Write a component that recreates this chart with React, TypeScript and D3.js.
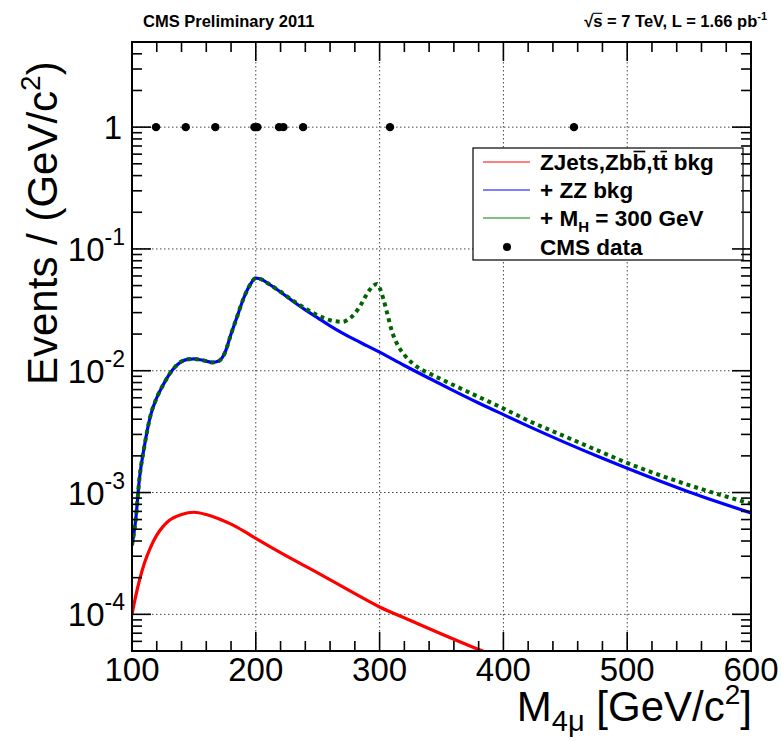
import React from "react";
import * as d3 from "d3";

const FONT = "'Liberation Sans', Arial, Helvetica, sans-serif";

// ZJets, Zbb, tt background (red)
const redMass = [100, 103, 106, 110, 115, 120, 125, 130, 140, 150, 160, 170, 180, 190, 200, 225, 250, 275, 300, 325, 350, 375, 400];
const redVals = [1.0e-4, 1.41e-4, 1.9e-4, 2.63e-4, 3.55e-4, 4.47e-4, 5.25e-4, 5.89e-4, 6.6e-4, 6.89e-4, 6.6e-4, 6.1e-4, 5.5e-4, 4.84e-4, 4.2e-4, 3.0e-4, 2.19e-4, 1.58e-4, 1.15e-4, 8.9e-5, 6.9e-5, 5.4e-5, 4.3e-5];

// + ZZ background (blue)
const blueMass = [100, 103, 106, 110, 115, 120, 125, 130, 135, 140, 145, 150, 155, 160, 165, 170, 175, 180, 185, 190, 195, 200, 205, 210, 220, 230, 240, 250, 260, 270, 280, 290, 300, 320, 340, 360, 380, 400, 420, 450, 480, 500, 550, 600];
const blueVals = [3.7e-4, 6.0e-4, 1.3e-3, 2.4e-3, 4.3e-3, 6.0e-3, 7.6e-3, 9.3e-3, 1.08e-2, 1.19e-2, 1.24e-2, 1.25e-2, 1.23e-2, 1.2e-2, 1.17e-2, 1.2e-2, 1.4e-2, 2.0e-2, 2.8e-2, 3.9e-2, 5.0e-2, 5.75e-2, 5.6e-2, 5.2e-2, 4.43e-2, 3.72e-2, 3.16e-2, 2.72e-2, 2.34e-2, 2.04e-2, 1.80e-2, 1.60e-2, 1.42e-2, 1.104e-2, 8.67e-3, 6.84e-3, 5.43e-3, 4.36e-3, 3.51e-3, 2.57e-3, 1.91e-3, 1.58e-3, 1.01e-3, 6.8e-4];

// + M_H = 300 GeV signal (green dotted)
const greenMass = [100, 103, 106, 110, 115, 120, 125, 130, 135, 140, 145, 150, 155, 160, 165, 170, 175, 180, 185, 190, 195, 200, 205, 210, 220, 230, 240, 250, 260, 270, 275, 280, 285, 290, 295, 298, 300, 303, 306, 310, 315, 320, 330, 340, 350, 360, 380, 400, 420, 450, 480, 500, 550, 600];
const greenVals = [3.7e-4, 6.0e-4, 1.3e-3, 2.4e-3, 4.3e-3, 6.0e-3, 7.6e-3, 9.3e-3, 1.08e-2, 1.19e-2, 1.24e-2, 1.25e-2, 1.23e-2, 1.2e-2, 1.17e-2, 1.2e-2, 1.4e-2, 2.0e-2, 2.8e-2, 3.9e-2, 5.0e-2, 5.75e-2, 5.6e-2, 5.2e-2, 4.45e-2, 3.76e-2, 3.25e-2, 2.85e-2, 2.6e-2, 2.52e-2, 2.65e-2, 2.95e-2, 3.5e-2, 4.3e-2, 5.0e-2, 5.15e-2, 4.8e-2, 3.9e-2, 3.0e-2, 2.1e-2, 1.6e-2, 1.35e-2, 1.08e-2, 9.5e-3, 8.5e-3, 7.6e-3, 6.1e-3, 4.9e-3, 3.9e-3, 2.88e-3, 2.13e-3, 1.75e-3, 1.15e-3, 8.1e-4];

// CMS data
const dataMass = [119.4, 143.4, 167.3, 198.9, 201.3, 218.8, 222.3, 238.2, 308.4, 457.0];
const dataVals = [1, 1, 1, 1, 1, 1, 1, 1, 1, 1];

const xTicks = [100, 200, 300, 400, 500, 600];
const xTickLabels = ["100", "200", "300", "400", "500", "600"];
const yTicks = [1, 0.1, 0.01, 0.001, 0.0001];
const yTickLabels = ["1", "10^-1", "10^-2", "10^-3", "10^-4"];

const legendLabels = ["ZJets,Zbb,tt bkg", "+ ZZ bkg", "+ M_H = 300 GeV", "CMS data"];

function measure(text: string, font: string): number {
  if (typeof document === "undefined") return text.length * 10;
  const c = document.createElement("canvas").getContext("2d");
  if (!c) return text.length * 10;
  c.font = font;
  return c.measureText(text).width;
}

export default function App() {
  const W = 781, H = 741;
  const L = 132, R = 751, T = 42, B = 651;
  const x = d3.scaleLinear().domain([100, 600]).range([L, R]);
  const y = d3.scaleLog().domain([5e-5, 5]).range([B, T]);

  const line = d3
    .line<[number, number]>()
    .x((d) => x(d[0]))
    .y((d) => y(d[1]))
    .curve(d3.curveMonotoneX);

  const zip = (a: number[], b: number[]) => a.map((m, i) => [m, b[i]] as [number, number]);

  const xMinor = d3.range(100, 601, 20).filter((v) => v % 100 !== 0);
  const yMinor: number[] = [];
  for (let e = -5; e <= 0; e++) {
    for (let k = 2; k <= 9; k++) {
      const v = k * Math.pow(10, e);
      if (v >= 5e-5 && v <= 5) yMinor.push(v);
    }
  }

  const gridStyle = { stroke: "#444", strokeWidth: 1, strokeDasharray: "1.5,2.5" };
  const majorLen = 19, minorLen = 10;

  // legend
  const lgX = 473, lgY = 148, lgW = 270, lgH = 112;
  const rowY = [162, 190, 218, 247];
  const lgFontSize = 22.5;
  const lgFont = `bold ${lgFontSize}px 'Liberation Sans', Arial, sans-serif`;
  const tx = 540;
  const l1a = measure("ZJets,Zb", lgFont);
  const l1b = measure("b", lgFont);
  const l1c = measure("ZJets,Zbb,t", lgFont);
  const l1d = measure("t", lgFont);
  const obY = rowY[0] + 8 - 18.5;

  // header
  const hdFont = `bold 16.5px 'Liberation Sans', Arial, sans-serif`;
  const hdSupFont = `bold 11px 'Liberation Sans', Arial, sans-serif`;
  const hdTotal = measure("√s = 7 TeV, L = 1.66 pb", hdFont) + measure("-1", hdSupFont);
  const hdStart = 767 - hdTotal;
  const sqrtW = measure("√", hdFont);
  const sW = measure("s", hdFont);

  return (
    <svg width={W} height={H} style={{ display: "block", position: "absolute", left: 0, top: 0, background: "#fff" }} fontFamily={FONT}>
      <defs>
        <clipPath id="plotclip">
          <rect x={L} y={T} width={R - L} height={B - T} />
        </clipPath>
      </defs>
      <rect x={0} y={0} width={W} height={H} fill="#fff" />

      {/* grid */}
      {xTicks.filter((v) => v > 100 && v < 600).map((v) => (
        <line key={"gx" + v} x1={x(v)} x2={x(v)} y1={T} y2={B} {...gridStyle} />
      ))}
      {yTicks.map((v) => (
        <line key={"gy" + v} x1={L} x2={R} y1={y(v)} y2={y(v)} {...gridStyle} />
      ))}

      {/* curves */}
      <g clipPath="url(#plotclip)">
        <path d={line(zip(redMass, redVals)) || ""} fill="none" stroke="#ff0000" strokeWidth={3.2} />
        <path d={line(zip(blueMass, blueVals)) || ""} fill="none" stroke="#0000ff" strokeWidth={3.2} />
        <path d={line(zip(greenMass, greenVals)) || ""} fill="none" stroke="#006400" strokeWidth={4} strokeDasharray="4,4" />
      </g>

      {/* data points */}
      {dataMass.map((m, i) => (
        <circle key={"d" + i} cx={x(m)} cy={y(dataVals[i])} r={4.2} fill="#000" />
      ))}

      {/* legend */}
      <rect x={lgX} y={lgY} width={lgW} height={lgH} fill="#fff" stroke="#000" strokeWidth={1.2} />
      <line x1={483} x2={530} y1={rowY[0]} y2={rowY[0]} stroke="#ff0000" strokeWidth={1} />
      <line x1={483} x2={530} y1={rowY[1]} y2={rowY[1]} stroke="#0000ff" strokeWidth={1} />
      <line x1={483} x2={530} y1={rowY[2]} y2={rowY[2]} stroke="#008000" strokeWidth={1} />
      <circle cx={507} cy={rowY[3]} r={4} fill="#000" />
      <g fontWeight="bold" fontSize={lgFontSize} fill="#000">
        <text x={tx} y={rowY[0] + 8}>{legendLabels[0]}</text>
        <text x={tx} y={rowY[1] + 8}>{legendLabels[1]}</text>
        <text x={tx} y={rowY[2] + 8}>
          <tspan>+ M</tspan>
          <tspan fontSize={15} dy={6}>H</tspan>
          <tspan dy={-6}> = 300 GeV</tspan>
        </text>
        <text x={tx} y={rowY[3] + 8}>{legendLabels[3]}</text>
      </g>
      <line x1={tx + l1a + 1} x2={tx + l1a + l1b - 1} y1={obY} y2={obY} stroke="#000" strokeWidth={1.6} />
      <line x1={tx + l1c + 0.5} x2={tx + l1c + l1d - 0.5} y1={obY} y2={obY} stroke="#000" strokeWidth={1.6} />

      {/* frame */}
      <rect x={L} y={T} width={R - L} height={B - T} fill="none" stroke="#000" strokeWidth={2} />

      {/* x ticks bottom & top */}
      {xTicks.map((v) => (
        <g key={"xt" + v}>
          <line x1={x(v)} x2={x(v)} y1={B} y2={B - majorLen} stroke="#000" strokeWidth={1.6} />
          <line x1={x(v)} x2={x(v)} y1={T} y2={T + majorLen} stroke="#000" strokeWidth={1.6} />
        </g>
      ))}
      {xMinor.map((v) => (
        <g key={"xm" + v}>
          <line x1={x(v)} x2={x(v)} y1={B} y2={B - minorLen} stroke="#000" strokeWidth={1.6} />
          <line x1={x(v)} x2={x(v)} y1={T} y2={T + minorLen} stroke="#000" strokeWidth={1.6} />
        </g>
      ))}
      {/* y ticks left & right */}
      {yTicks.map((v) => (
        <g key={"yt" + v}>
          <line x1={L} x2={L + majorLen} y1={y(v)} y2={y(v)} stroke="#000" strokeWidth={1.6} />
          <line x1={R} x2={R - majorLen} y1={y(v)} y2={y(v)} stroke="#000" strokeWidth={1.6} />
        </g>
      ))}
      {yMinor.map((v, i) => (
        <g key={"ym" + i}>
          <line x1={L} x2={L + minorLen} y1={y(v)} y2={y(v)} stroke="#000" strokeWidth={1.6} />
          <line x1={R} x2={R - minorLen} y1={y(v)} y2={y(v)} stroke="#000" strokeWidth={1.6} />
        </g>
      ))}

      {/* x tick labels */}
      {xTicks.map((v, i) => (
        <text key={"xl" + v} x={x(v)} y={681} fontSize={33} textAnchor="middle" fill="#000">
          {xTickLabels[i]}
        </text>
      ))}
      {/* y tick labels */}
      {yTicks.map((v, i) => {
        const lab = yTickLabels[i];
        const yy = y(v);
        if (lab.indexOf("^") < 0) {
          return (
            <text key={"yl" + i} x={122} y={yy + 12} fontSize={33} textAnchor="end" fill="#000">
              {lab}
            </text>
          );
        }
        const [base, exp] = lab.split("^");
        return (
          <text key={"yl" + i} x={125} y={yy + 12} fontSize={33} textAnchor="end" fill="#000">
            <tspan>{base}</tspan>
            <tspan fontSize={23} dy={-16}>{exp}</tspan>
          </text>
        );
      })}

      {/* axis titles */}
      <text x={752} y={721} fontSize={42} textAnchor="end" fill="#000">
        <tspan>M</tspan>
        <tspan fontSize={29} dy={10}>4μ</tspan>
        <tspan dy={-10}> [GeV/c</tspan>
        <tspan fontSize={28} dy={-17}>2</tspan>
        <tspan dy={17}>]</tspan>
      </text>
      <text transform="rotate(-90)" x={-385} y={57} fontSize={42} fill="#000">
        <tspan>Events / (GeV/c</tspan>
        <tspan fontSize={28} dy={-17}>2</tspan>
        <tspan dy={17}>)</tspan>
      </text>

      {/* header */}
      <text x={143} y={27} fontSize={16.5} fontWeight="bold" fill="#000">CMS Preliminary 2011</text>
      <text x={767} y={27} fontSize={16.5} fontWeight="bold" textAnchor="end" fill="#000">
        <tspan>√s = 7 TeV, L = 1.66 pb</tspan>
        <tspan fontSize={11} dy={-7}>-1</tspan>
      </text>
      <line x1={hdStart + sqrtW - 0.5} x2={hdStart + sqrtW + sW} y1={13.3} y2={13.3} stroke="#000" strokeWidth={1.1} />
    </svg>
  );
}
